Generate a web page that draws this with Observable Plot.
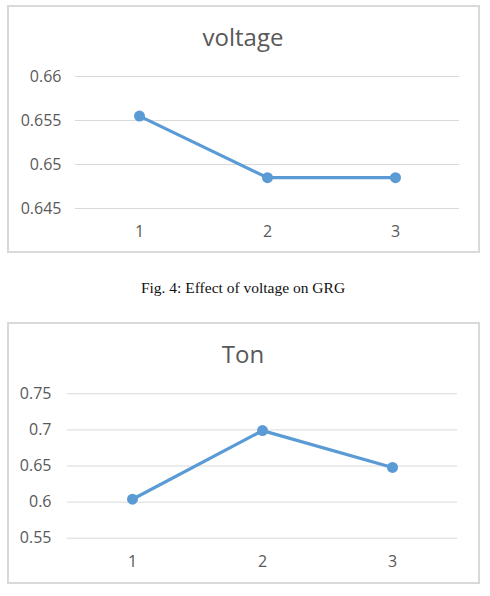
<!DOCTYPE html>
<html>
<head>
<meta charset="utf-8">
<script src="https://cdn.jsdelivr.net/npm/d3@7"></script>
<script src="https://cdn.jsdelivr.net/npm/@observablehq/plot@0.6"></script>
<style>
  html, body { margin: 0; padding: 0; background: #fff; }
  #page { position: relative; width: 490px; height: 596px; overflow: hidden; }
  .box { position: absolute; box-sizing: border-box; border: 2px solid #d9d9d9; }
  .title { position: absolute; text-align: center; font-family: "Open Sans", sans-serif;
           font-size: 24px; line-height: 24px; color: #595959; white-space: nowrap; }
  .caption { position: absolute; left: 0; width: 486px; text-align: center;
             font-family: "Liberation Serif", "Times New Roman", serif; font-size: 15.5px;
             line-height: 16px; color: #111; }
  .chart { position: absolute; left: 0; }
  .chart svg { display: block; }
</style>
</head>
<body>
<div id="page">
  <div class="box" style="left:7px; top:5px; width:473px; height:248px;"></div>
  <div class="box" style="left:7px; top:322px; width:473px; height:262px;"></div>
  <div class="chart" id="voltage" style="top:0px;"></div>
  <div class="chart" id="ton" style="top:300px;"></div>
  <div class="title" style="left:7px; width:472px; top:25px;">voltage</div>
  <div class="title" style="left:7px; width:472px; top:342px;">Ton</div>
  <div class="caption" style="top:280px;">Fig. 4: Effect of voltage on GRG</div>
</div>
<script>
// Experiment runs (levels 1–3) and the grey relational grade at each level
const runs = [1, 2, 3];
const voltageGRG = [0.6555, 0.6485, 0.6485];
const tonGRG = [0.604, 0.699, 0.648];

// Value-axis tick labels for each chart
const voltageTicks = [0.645, 0.65, 0.655, 0.66];
const tonTicks = [0.55, 0.6, 0.65, 0.7, 0.75];

const blue = "#5b9bd5";
const grey = "#595959";

function lineChart(values, ticks, layout) {
  const data = runs.map((r, i) => ({run: r, grg: values[i]}));
  return Plot.plot({
    width: 490,
    height: layout.height,
    marginTop: layout.top,
    marginBottom: layout.bottom,
    marginLeft: layout.left,
    marginRight: layout.right,
    style: {fontFamily: "'Open Sans', sans-serif", fontSize: "16px", color: grey, background: "transparent", overflow: "visible"},
    x: {type: "point", domain: runs, padding: 0.5, label: null},
    y: {domain: [ticks[0], ticks[ticks.length - 1]], label: null},
    marks: [
      Plot.ruleY(ticks, {stroke: "#d9d9d9", strokeWidth: 1}),
      Plot.axisY(ticks, {tickSize: 0, tickPadding: layout.yPad, tickFormat: d => String(d), fill: grey, fontSize: 16, label: null}),
      Plot.axisX({tickSize: 0, tickPadding: 17, fill: grey, fontSize: 16, label: null}),
      Plot.line(data, {x: "run", y: "grg", stroke: blue, strokeWidth: 3.2}),
      Plot.dot(data, {x: "run", y: "grg", r: 5.5, fill: blue, stroke: "none"})
    ]
  });
}

document.getElementById("voltage").append(
  lineChart(voltageGRG, voltageTicks, {height: 260, top: 76, bottom: 52, left: 75, right: 31, yPad: 14})
);
document.getElementById("ton").append(
  lineChart(tonGRG, tonTicks, {height: 296, top: 93.3, bottom: 58.3, left: 67, right: 33, yPad: 16})
);
</script>
</body>
</html>
